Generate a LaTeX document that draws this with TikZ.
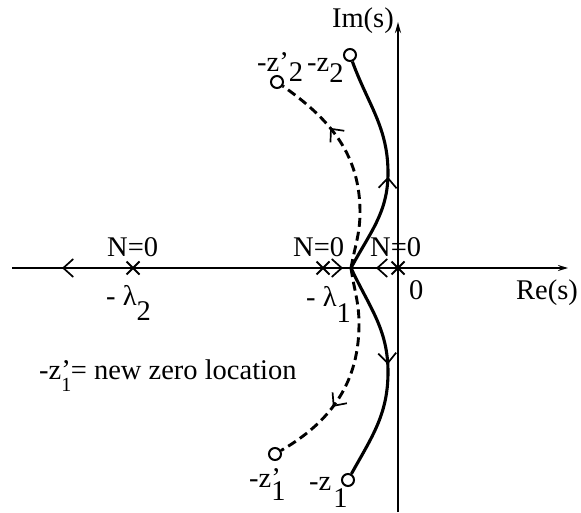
\documentclass[tikz,border=0pt]{standalone}
\usepackage{fontspec}
\setmainfont{Liberation Serif}
\usetikzlibrary{arrows.meta,shapes.misc,decorations.markings}
\begin{document}
\begin{tikzpicture}[x=1pt,y=1pt,
  lbl/.style={inner sep=0pt, anchor=base west, font=\fontsize{28.5}{30}\selectfont},
  zeromark/.style={circle, draw, line width=2pt, minimum size=12pt, inner sep=0pt, fill=white},
  polemark/.style={cross out, draw, line width=2pt, minimum size=11pt, inner sep=0pt},
  axisline/.style={line width=2.4pt},
  locus/.style={line width=3.1pt},
  dlocus/.style={line width=2.9pt, dash pattern=on 9pt off 5pt},
  barb/.tip={Straight Barb[length=10pt,width=18pt,line width=1.7pt]},
  along/.style={postaction={decorate}, decoration={markings, mark=at position #1 with {\arrow{barb}}}},
]
\useasboundingbox (0,0) rectangle (581,512);
% axes
\coordinate (reL) at (12,244);
\coordinate (reR) at (568,244);
\coordinate (imB) at (398,0);
\coordinate (imT) at (398,490);
\draw[axisline, -{Stealth[length=10pt,width=6pt]},
  postaction={decorate},
  decoration={markings,
    mark=at position 50pt with {\arrowreversed{barb}},
    mark=at position 331pt with {\arrow{barb}},
    mark=at position 364pt with {\arrowreversed{barb}}}]
  (reL) -- (reR);
\draw[axisline, -{Stealth[length=11pt,width=6pt]}] (imB) -- (imT);
% poles
\node[polemark] (p2) at (133,244) {};
\node[polemark] (p1) at (323,244) {};
\node[polemark] (p0) at (398,244) {};
% zeros
\node[zeromark] (z2) at (350,457) {};
\node[zeromark] (z1) at (348,32) {};
\node[zeromark] (zp2) at (277,430) {};
\node[zeromark] (zp1) at (275,58) {};
\coordinate (B) at (351,244);
% loci
\draw[locus, along=0.45] (B) to[out=62,in=-90] (388,339) to[out=90,in=-70] (z2);
\draw[locus, along=0.47] (B) to[out=-65,in=90] (388,140) to[out=-90,in=61] (z1);
\draw[dlocus, along=0.7] (B) to[out=80,in=-90] (360,300) to[out=90,in=-35] (zp2);
\draw[dlocus, along=0.68] (B) to[out=-82,in=90] (359,188) to[out=-90,in=30] (zp1);
% labels
\node[lbl, anchor=base east] (im) at (394,484) {Im(s)};
\node[lbl] (re) at (516,212) {Re(s)};
\node[lbl] (o) at (409,212) {0};
\node[lbl] (n2) at (107,255) {N=0};
\node[lbl] (n1) at (293,255) {N=0};
\node[lbl] (n0) at (370,255) {N=0};
\node[lbl] (l2) at (106,206) {- λ\raisebox{-15pt}{2}};
\node[lbl] (l1) at (306,205) {- λ\raisebox{-16pt}{1}};
\node[lbl] (tz2) at (307,440) {-z\raisebox{-11pt}{2}};
\node[lbl] (tzp2) at (257,440) {-z'\raisebox{-10pt}{2}};
\node[lbl] (tz1) at (309,22) {-z\kern2pt\raisebox{-17pt}{1}};
\node[lbl] (tzp1) at (249,25) {-z\rlap{'}\raisebox{-13pt}{1}};
\node[lbl] (note) at (39,133) {-z\rlap{\raisebox{-12pt}{\fontsize{20}{20}\selectfont 1}}'= new zero location};
\end{tikzpicture}
\end{document}
